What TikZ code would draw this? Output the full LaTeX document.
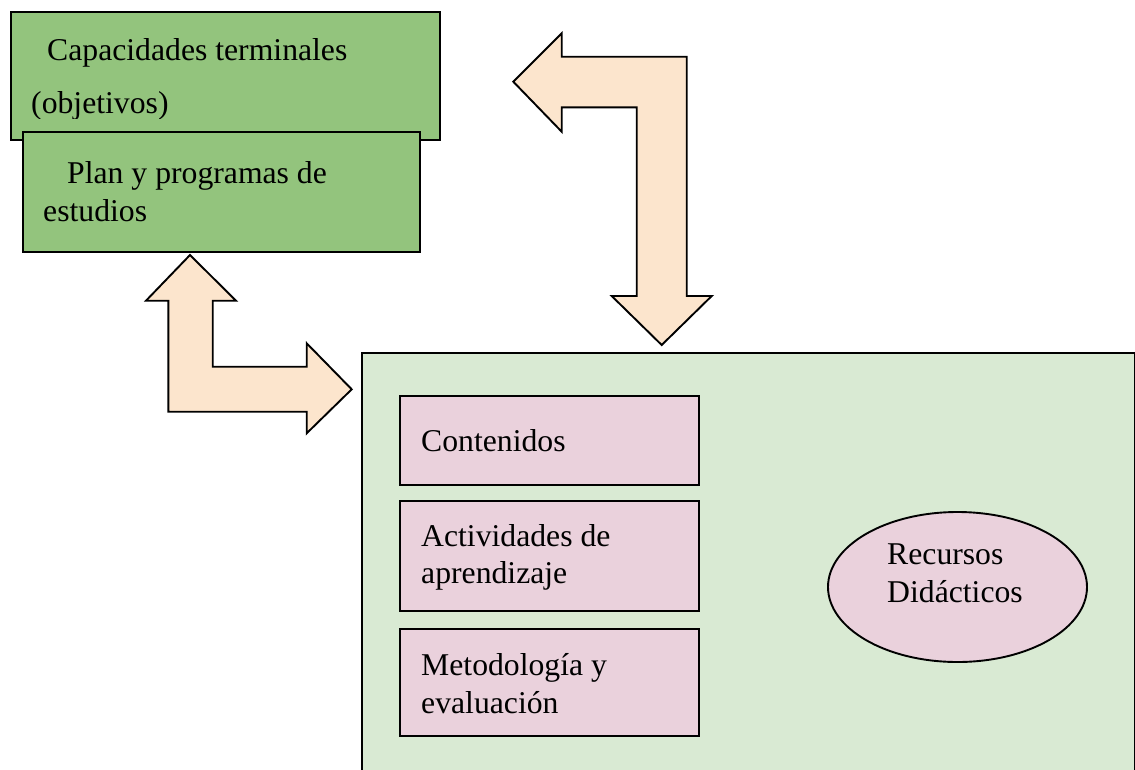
\documentclass[tikz,border=0pt]{standalone}
\usepackage{fontspec}
\setmainfont{Liberation Serif}
\usetikzlibrary{shapes.geometric}
\definecolor{boxgreen}{HTML}{93C47D}
\definecolor{panelgreen}{HTML}{D9EAD3}
\definecolor{boxpink}{HTML}{EAD1DC}
\definecolor{arrowfill}{HTML}{FCE5CD}
\begin{document}
\begin{tikzpicture}[x=1pt,y=-1pt,
  box/.style={draw=black, line width=1.9pt, rectangle, inner sep=0pt, anchor=north west},
  greenbox/.style={box, fill=boxgreen},
  pinkbox/.style={box, fill=boxpink, minimum width=299pt},
  panel/.style={box, fill=panelgreen},
  lbl/.style={anchor=base west, inner sep=0pt, font=\fontsize{31.7}{38}\selectfont},
  blockarrow/.style={draw=black, line width=1.9pt, fill=arrowfill, line join=miter}]
\useasboundingbox (0,0) rectangle (1135,769);
% top-left boxes
\node[greenbox, minimum width=429pt, minimum height=128pt] (cap) at (10,11) {};
\node[lbl] (capA) at (47,60) {Capacidades terminales};
\begin{scope}
  \clip (0,0) rectangle (460,118);
  \node[lbl] (capB) at (31,113) {(objetivos)};
\end{scope}
\node[greenbox, minimum width=397pt, minimum height=120pt] (plan) at (22,131) {};
\node[lbl] (planA) at (67,183) {Plan y programas de};
\node[lbl] (planB) at (43,221) {estudios};
% block arrows
\draw[blockarrow] (513.3,81.7) -- (561.7,33.3) -- (561.7,56.7) -- (686.7,56.7)
  -- (686.7,296) -- (711.7,296) -- (661.7,345) -- (611.7,296) -- (636.7,296)
  -- (636.7,107.3) -- (561.7,107.3) -- (561.7,131.7) -- cycle;
\draw[blockarrow] (190,255) -- (236,300.7) -- (212.7,300.7) -- (212.7,366.7)
  -- (306.7,366.7) -- (306.7,343.3) -- (351.7,389.3) -- (306.7,433.3)
  -- (306.7,411.7) -- (168.3,411.7) -- (168.3,300.7) -- (146,300.7) -- cycle;
% big panel
\node[panel, minimum width=773pt, minimum height=440pt] (pan) at (361,352) {};
\node[pinkbox, minimum height=89pt] (cont) at (399,395) {};
\node[pinkbox, minimum height=110pt] (act) at (399,500) {};
\node[pinkbox, minimum height=107pt] (met) at (399,628) {};
\node[draw=black, line width=1.9pt, fill=boxpink, ellipse, inner sep=0pt,
  minimum width=259pt, minimum height=150pt] (rec) at (957.5,587) {};
\node[lbl] (contT) at (421,451) {Contenidos};
\node[lbl] (actA) at (421,546) {Actividades de};
\node[lbl] (actB) at (421,583) {aprendizaje};
\node[lbl] (metA) at (421,675) {Metodología y};
\node[lbl] (metB) at (421,713) {evaluación};
\node[lbl] (recA) at (887,564) {Recursos};
\node[lbl] (recB) at (887,602) {Didácticos};
\end{tikzpicture}
\end{document}
